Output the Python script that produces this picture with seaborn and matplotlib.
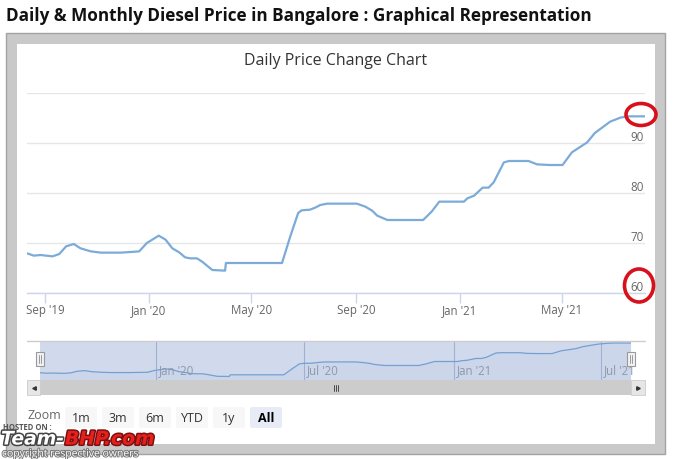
import numpy as np
import pandas as pd
import matplotlib
matplotlib.use("Agg")
import matplotlib.pyplot as plt
import matplotlib.dates as mdates
from matplotlib.patches import Rectangle, Ellipse, FancyBboxPatch
import matplotlib.patheffects as pe
from matplotlib.transforms import offset_copy
import seaborn as sns

# ---------------- data ----------------
dates = ["2019-08-11", "2019-08-19", "2019-08-27", "2019-09-10", "2019-09-18", "2019-09-26",
         "2019-10-05", "2019-10-13", "2019-10-25", "2019-11-06", "2019-11-29", "2019-12-17",
         "2019-12-21", "2019-12-30", "2020-01-13", "2020-01-21", "2020-01-29", "2020-02-06",
         "2020-02-13", "2020-02-19", "2020-02-27", "2020-03-04", "2020-03-16", "2020-03-31",
         "2020-04-01", "2020-06-06", "2020-06-16", "2020-06-25", "2020-06-29", "2020-07-09",
         "2020-07-15", "2020-07-21", "2020-07-29", "2020-09-02", "2020-09-12", "2020-09-20",
         "2020-09-26", "2020-10-08", "2020-11-19", "2020-11-29", "2020-12-08", "2021-01-06",
         "2021-01-10", "2021-01-18", "2021-01-28", "2021-02-04", "2021-02-10", "2021-02-22",
         "2021-02-28", "2021-03-23", "2021-04-02", "2021-04-17", "2021-05-02", "2021-05-13",
         "2021-05-31", "2021-06-09", "2021-06-27", "2021-07-09", "2021-07-17", "2021-08-07"]
prices = [67.94, 67.47, 67.6, 67.33, 67.8, 69.33, 69.8, 68.93, 68.33, 68.07, 68.07, 68.27,
          68.33, 70.0, 71.47, 70.67, 68.93, 68.13, 67.13, 66.93, 66.93, 66.27, 64.6, 64.47,
          66.0, 66.0, 71.47, 76.0, 76.53, 76.67, 77.07, 77.6, 77.87, 77.87, 77.27, 76.47,
          75.47, 74.6, 74.6, 76.27, 78.27, 78.27, 78.93, 79.47, 81.07, 81.07, 82.13, 86.13,
          86.4, 86.4, 85.73, 85.6, 85.6, 88.13, 90.13, 92.0, 94.27, 95.07, 95.33, 95.33]

main_tick_dates = ["2019-09-01", "2020-01-01", "2020-05-01", "2020-09-01", "2021-01-01", "2021-05-01"]
main_tick_labels = ["Sep '19", "Jan '20", "May '20", "Sep '20", "Jan '21", "May '21"]
y_ticks = [60, 70, 80, 90, 100]
y_labels = ["60", "70", "80", "90", ""]
nav_tick_dates = ["2020-01-01", "2020-07-01", "2021-01-01", "2021-07-01"]
nav_tick_labels = ["Jan '20", "Jul '20", "Jan '21", "Jul '21"]
zoom_buttons = ["1m", "3m", "6m", "YTD", "1y", "All"]

title_text = "Daily & Monthly Diesel Price in Bangalore : Graphical Representation"
chart_title = "Daily Price Change Chart"

df = pd.DataFrame({"date": pd.to_datetime(dates), "price": prices})

# ---------------- figure ----------------
sns.set_theme(style="white")
plt.rcParams["font.family"] = ["Open Sans", "DejaVu Sans"]

W, H = 673, 460
fig = plt.figure(figsize=(W / 100, H / 100), dpi=100)
fig.patch.set_facecolor("white")


def rect(x0, y0, x1, y1):
    return [x0 / W, 1 - y1 / H, (x1 - x0) / W, (y1 - y0) / H]


# background layer in pixel coordinates
bg = fig.add_axes([0, 0, 1, 1], zorder=0)
bg.set_xlim(0, W)
bg.set_ylim(H, 0)
bg.axis("off")

# grey frame
bg.add_patch(Rectangle((6, 34), 659, 421, facecolor="#c9c9c9", edgecolor="#a3a3a3", lw=1))
bg.add_patch(Rectangle((17, 45), 638, 400, facecolor="white", edgecolor="none"))

bg.text(6, 16, title_text, fontsize=12.3, fontweight="bold", color="#111111",
        va="center", ha="left", family=["Open Sans", "DejaVu Sans"])
bg.text(336, 61, chart_title, fontsize=11.5, color="#333333", va="center", ha="center")

# ---------------- main chart ----------------
x_start, x_end = pd.Timestamp(dates[0]), pd.Timestamp(dates[-1])
line_color = "#7cabd9"

ax = fig.add_axes(rect(27, 94, 645, 294), zorder=2)
ax.patch.set_alpha(0)
sns.lineplot(data=df, x="date", y="price", ax=ax, color=line_color, linewidth=1.6)
ax.set_xlim(x_start, x_end)
ax.set_ylim(60, 100)
ax.set_xlabel("")
ax.set_ylabel("")
for s in ["top", "right", "left"]:
    ax.spines[s].set_visible(False)
ax.spines["bottom"].set_color("#ccd6eb")
ax.spines["bottom"].set_linewidth(1)
ax.set_yticks(y_ticks)
ax.set_yticklabels([])
ax.tick_params(axis="y", length=0)
ax.grid(axis="y", color="#e6e6e6", linewidth=1)
ax.set_axisbelow(True)
ax.set_xticks(mdates.date2num(pd.to_datetime(main_tick_dates)))
ax.set_xticklabels(main_tick_labels, fontsize=8.3, color="#666666")
ax.tick_params(axis="x", length=7, width=1, color="#ccd6eb", pad=0.5, bottom=True)
for v, lab in zip(y_ticks, y_labels):
    if lab:
        ax.annotate(lab, xy=(1, v), xycoords=("axes fraction", "data"),
                    xytext=(-1, 2.5), textcoords="offset points", ha="right", va="baseline",
                    fontsize=8.3, color="#666666")

# ---------------- navigator ----------------
nav = fig.add_axes(rect(40, 342, 631, 381), zorder=2)
sns.lineplot(data=df, x="date", y="price", ax=nav, color=line_color, linewidth=0.9)
nav.fill_between(df["date"], prices, 61.2, color=line_color, alpha=0.05, lw=0)
nav.set_xlim(x_start, x_end)
nav.set_ylim(61.2, 97.2)
nav.set_xlabel("")
nav.set_ylabel("")
nav.set_yticks([])
nav.set_xticks([])
for s in nav.spines.values():
    s.set_visible(False)
nav.add_patch(Rectangle((0, 0), 1, 1, transform=nav.transAxes,
                        facecolor=(102 / 255, 133 / 255, 194 / 255, 0.3), edgecolor="none", zorder=3))
for d, lab in zip(nav_tick_dates, nav_tick_labels):
    xd = mdates.date2num(pd.Timestamp(d))
    nav.axvline(xd, color="#b8c3d8", lw=0.8, zorder=1)
    nav.annotate(lab, xy=(xd, 0), xycoords=("data", "axes fraction"), xytext=(2, 3),
                 textcoords="offset points", ha="left", va="bottom", fontsize=8.3, color="#8f98a8", zorder=4)

# overlay layer
ov = fig.add_axes([0, 0, 1, 1], zorder=5)
ov.set_xlim(0, W)
ov.set_ylim(H, 0)
ov.axis("off")
ov.patch.set_alpha(0)

# navigator outline
ov.plot([27, 645], [342, 342], color="#cccccc", lw=1)
# handles
for hx in (36, 627):
    ov.add_patch(Rectangle((hx, 353), 8, 14, facecolor="#f2f2f2", edgecolor="#999999", lw=0.8))
    ov.plot([hx + 3, hx + 3], [356, 364], color="#999999", lw=0.7)
    ov.plot([hx + 5, hx + 5], [356, 364], color="#999999", lw=0.7)

# scrollbar
ov.add_patch(Rectangle((27, 381), 618, 15, facecolor="#f2f2f2", edgecolor="none"))
ov.add_patch(Rectangle((40, 381), 591, 15, facecolor="#cccccc", edgecolor="none"))
ov.add_patch(Rectangle((27, 381), 13, 15, facecolor="#e6e6e6", edgecolor="#cccccc", lw=0.6))
ov.add_patch(Rectangle((631, 381), 14, 15, facecolor="#e6e6e6", edgecolor="#cccccc", lw=0.6))
ov.plot([33.5], [388.5], marker="<", color="#333333", markersize=2.5)
ov.plot([638], [388.5], marker=">", color="#333333", markersize=2.5)
for dx in (-2, 0, 2):
    ov.plot([335.5 + dx, 335.5 + dx], [385.5, 391.5], color="#333333", lw=0.6)

# range selector buttons
ov.text(27, 415.5, "Zoom", fontsize=9, color="#666666", ha="left", va="center")
btn_x = [65, 102, 139, 176, 213, 250]
for bx, lab in zip(btn_x, zoom_buttons):
    sel = lab == "All"
    ov.add_patch(FancyBboxPatch((bx, 408), 32, 21, boxstyle="round,pad=0,rounding_size=2",
                                facecolor="#e6ebf5" if sel else "#f7f7f7", edgecolor="none"))
    ov.text(bx + 16, 418.5, lab, fontsize=9, color="black" if sel else "#333333",
            fontweight="bold" if sel else "normal", ha="center", va="center")

# red highlight ellipses
ov.add_patch(Ellipse((641, 115.5), 30, 22, fill=False, edgecolor="#d8101c", lw=2.6))
ov.add_patch(Ellipse((639, 286.5), 29, 33, fill=False, edgecolor="#d8101c", lw=2.6))

# watermark
ov.text(3, 427.5, "HOSTED ON :", fontsize=5.5, fontweight="bold", color="#555555",
        ha="left", va="center")
wm1 = ov.text(1, 440, "Team-", fontsize=13.5, fontweight="bold", style="italic", color="white",
              ha="left", va="center", family=["DejaVu Sans"])
wm1.set_path_effects([pe.withStroke(linewidth=2.2, foreground="#444444")])
fig.canvas.draw()
ext = wm1.get_window_extent()
wm2 = ov.text(ext.x1 / 1.0 * (W / fig.bbox.width) + 1, 440, "BHP.com", fontsize=13.5,
              fontweight="bold", style="italic", color="#e8201c",
              ha="left", va="center", family=["DejaVu Sans"])
wm2.set_path_effects([pe.withStroke(linewidth=2.2, foreground="#7a1010")])
wm3 = ov.text(2, 455, "copyright respective owners", fontsize=7.5, color="white",
              ha="left", va="center")
wm3.set_path_effects([pe.withStroke(linewidth=1.4, foreground="#777777")])

fig.savefig("out.png", dpi=100)
